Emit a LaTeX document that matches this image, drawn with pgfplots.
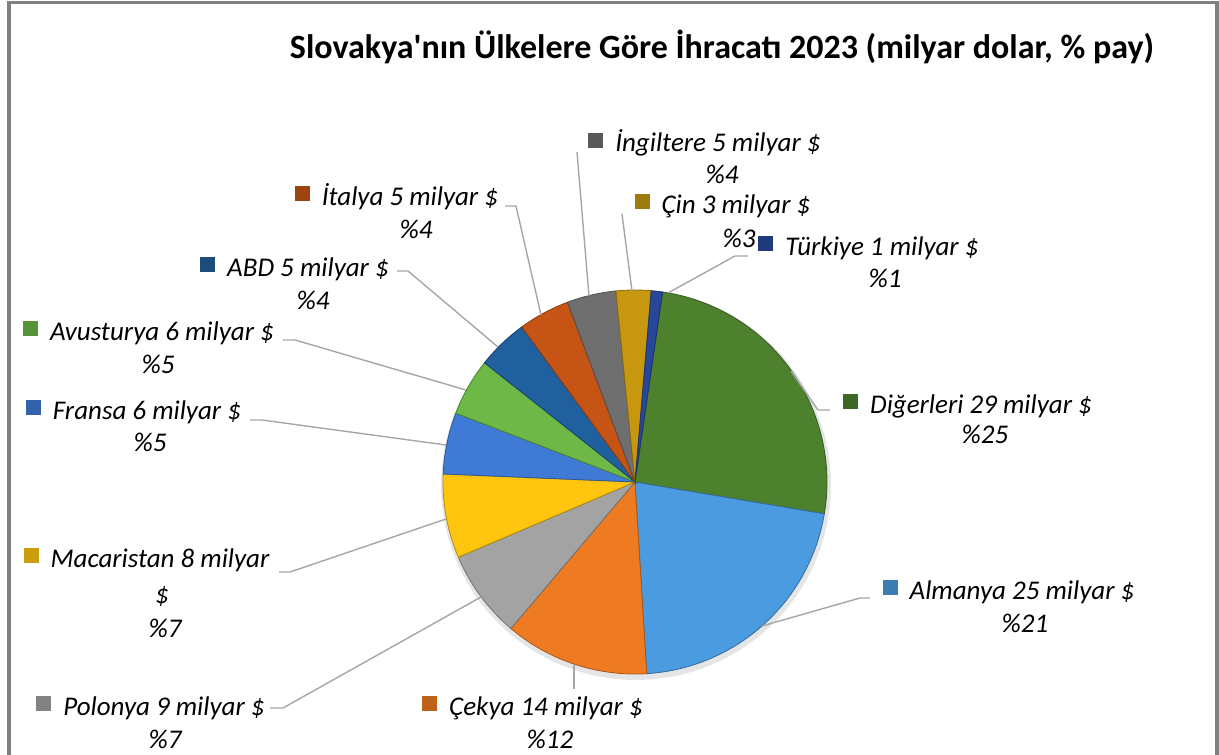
\documentclass[border=0pt]{standalone}
\usepackage{fontspec}
\setmainfont{Carlito}
\usepackage{pgfplots}
\pgfplotsset{compat=1.18}
\definecolor{cDig}{HTML}{4D812E}
\definecolor{cAlm}{HTML}{4A9BE0}
\definecolor{cCek}{HTML}{EE7B22}
\definecolor{cPol}{HTML}{A3A3A3}
\definecolor{cMac}{HTML}{FFC50F}
\definecolor{cFra}{HTML}{3F7BD6}
\definecolor{cAvu}{HTML}{6DB847}
\definecolor{cABD}{HTML}{21609F}
\definecolor{cIta}{HTML}{C65515}
\definecolor{cIng}{HTML}{6F6F6F}
\definecolor{cCin}{HTML}{C7980F}
\definecolor{cTur}{HTML}{27489A}
\definecolor{leader}{HTML}{A6A6A6}
\definecolor{frame}{HTML}{808080}
\newcommand{\lf}{\fontsize{27bp}{32bp}\selectfont\itshape}
\newcommand{\mk}[1]{\llap{\textcolor{#1!80!black}{\rule[4bp]{15bp}{15bp}}\hspace{12bp}}}
\newcommand{\slice}[3]{%
  \addplot[fill=#3, draw=#3!70!black, line width=0.8bp, domain=#1:#2, samples=60]
    ({635+192*sin(x)}, {482-192*cos(x)}) -- (axis cs:635,482) -- cycle;}
\begin{document}
\begin{tikzpicture}
% values (milyar $), clockwise from Digerleri
\def\tot{116.0}
\pgfmathsetmacro\aA{8.3}
\pgfmathsetmacro\aB{\aA+29.4/\tot*360}% Digerleri
\pgfmathsetmacro\aC{\aB+24.8/\tot*360}% Almanya
\pgfmathsetmacro\aD{\aC+14.1/\tot*360}% Cekya
\pgfmathsetmacro\aE{\aD+8.6/\tot*360}% Polonya
\pgfmathsetmacro\aF{\aE+8.2/\tot*360}% Macaristan
\pgfmathsetmacro\aG{\aF+6.0/\tot*360}% Fransa
\pgfmathsetmacro\aH{\aG+5.6/\tot*360}% Avusturya
\pgfmathsetmacro\aI{\aH+5.0/\tot*360}% ABD
\pgfmathsetmacro\aJ{\aI+5.0/\tot*360}% Italya
\pgfmathsetmacro\aK{\aJ+4.8/\tot*360}% Ingiltere
\pgfmathsetmacro\aL{\aK+3.4/\tot*360}% Cin
\pgfmathsetmacro\aM{\aL+1.1/\tot*360}% Turkiye
\begin{axis}[width=1219bp, height=755bp, scale only axis,
  xmin=0, xmax=1219, ymin=0, ymax=755, y dir=reverse,
  hide axis, clip=false]
% frame
\draw[frame, line width=3.5bp] (axis cs:9,755) -- (axis cs:9,2.5) -- (axis cs:1217,2.5) -- (axis cs:1217,755);
% title
\node[anchor=base, font=\bfseries\fontsize{34bp}{40bp}\selectfont] at (axis cs:722,59)
  {Slovakya\textquotesingle nın Ülkelere Göre İhracatı 2023 (milyar dolar, \% pay)};
% shadow
\addplot[fill=black!10, draw=none, domain=0:360, samples=120] ({636+195*sin(x)}, {485-195*cos(x)}) -- cycle;
% slices
\slice{\aA}{\aB}{cDig}
\slice{\aB}{\aC}{cAlm}
\slice{\aC}{\aD}{cCek}
\slice{\aD}{\aE}{cPol}
\slice{\aE}{\aF}{cMac}
\slice{\aF}{\aG}{cFra}
\slice{\aG}{\aH}{cAvu}
\slice{\aH}{\aI}{cABD}
\slice{\aI}{\aJ}{cIta}
\slice{\aJ}{\aK}{cIng}
\slice{\aK}{\aL}{cCin}
\slice{\aL}{\aM}{cTur}
% leader lines
\addplot[leader, line width=1.4bp] coordinates {(791,371) (818,410) (830,410)};
\addplot[leader, line width=1.4bp] coordinates {(762,626) (860,598) (870,598)};
\addplot[leader, line width=1.4bp] coordinates {(574,665) (574,689)};
\addplot[leader, line width=1.4bp] coordinates {(481,597) (283,708) (270,708)};
\addplot[leader, line width=1.4bp] coordinates {(446,519) (290,572) (279,572)};
\addplot[leader, line width=1.4bp] coordinates {(446,445) (262,420) (250,420)};
\addplot[leader, line width=1.4bp] coordinates {(466,390) (295,340) (283,340)};
\addplot[leader, line width=1.4bp] coordinates {(498,347) (408,271) (397,271)};
\addplot[leader, line width=1.4bp] coordinates {(541,315) (516,206) (505,206)};
\addplot[leader, line width=1.4bp] coordinates {(589,296) (577,152)};
\addplot[leader, line width=1.4bp] coordinates {(632,291) (622,214)};
\addplot[leader, line width=1.4bp] coordinates {(668,293) (735,256) (748,256)};
% labels
\node[anchor=base, font=\lf] at (axis cs:981,413) {\mk{cDig}Diğerleri 29 milyar \$};
\node[anchor=base, font=\lf] at (axis cs:985,443) {\%25};
\node[anchor=base, font=\lf] at (axis cs:1022,599) {\mk{cAlm}Almanya 25 milyar \$};
\node[anchor=base, font=\lf] at (axis cs:1025,632) {\%21};
\node[anchor=base, font=\lf] at (axis cs:546,715) {\mk{cCek}Çekya 14 milyar \$};
\node[anchor=base, font=\lf] at (axis cs:550,748) {\%12};
\node[anchor=base, font=\lf] at (axis cs:164,715) {\mk{cPol}Polonya 9 milyar \$};
\node[anchor=base, font=\lf] at (axis cs:165,748) {\%7};
\node[anchor=base, font=\lf] at (axis cs:160,567) {\mk{cMac}Macaristan 8 milyar};
\node[anchor=base, font=\lf] at (axis cs:162,603) {\$};
\node[anchor=base, font=\lf] at (axis cs:165,637) {\%7};
\node[anchor=base, font=\lf] at (axis cs:147,419) {\mk{cFra}Fransa 6 milyar \$};
\node[anchor=base, font=\lf] at (axis cs:150,451) {\%5};
\node[anchor=base, font=\lf] at (axis cs:162,340) {\mk{cAvu}Avusturya 6 milyar \$};
\node[anchor=base, font=\lf] at (axis cs:158,373) {\%5};
\node[anchor=base, font=\lf] at (axis cs:308,276) {\mk{cABD}ABD 5 milyar \$};
\node[anchor=base, font=\lf] at (axis cs:313,309) {\%4};
\node[anchor=base, font=\lf] at (axis cs:410,205) {\mk{cIta}İtalya 5 milyar \$};
\node[anchor=base, font=\lf] at (axis cs:416,238) {\%4};
\node[anchor=base, font=\lf] at (axis cs:718,152) {\mk{cIng}İngiltere 5 milyar \$};
\node[anchor=base, font=\lf] at (axis cs:722,183) {\%4};
\node[anchor=base, font=\lf] at (axis cs:736,213) {\mk{cCin}Çin 3 milyar \$};
\node[anchor=base, font=\lf] at (axis cs:739,247) {\%3};
\node[anchor=base, font=\lf] at (axis cs:882,255) {\mk{cTur}Türkiye 1 milyar \$};
\node[anchor=base, font=\lf] at (axis cs:885,287) {\%1};
\end{axis}
\pgfresetboundingbox
\path[use as bounding box] (0,0) rectangle (1219bp,755bp);
\end{tikzpicture}
\end{document}
